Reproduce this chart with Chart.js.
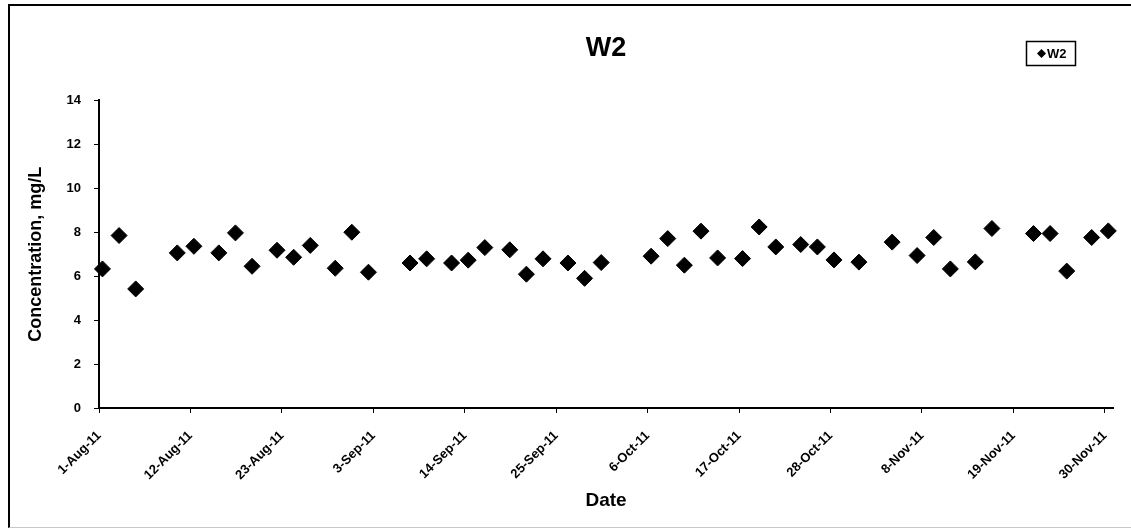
<!DOCTYPE html>
<html>
<head>
<meta charset="utf-8">
<title>W2</title>
<script src="https://cdn.jsdelivr.net/npm/chart.js@4.4.0/dist/chart.umd.min.js"></script>
<style>
  html, body { margin: 0; padding: 0; background: #fff; }
  #wrap { position: relative; width: 1131px; height: 530px; overflow: hidden; }
  #frame {
    position: absolute; left: 8px; top: 4px; width: 1130px; height: 521px;
    border-left: 2px solid #000; border-top: 2px solid #000; border-bottom: 1px solid #c8c8c8;
    pointer-events: none;
  }
</style>
</head>
<body>
<div id="wrap">
  <canvas id="myChart" width="1131" height="530"></canvas>
  <div id="frame"></div>
</div>
<script>
// Sample dates (morning samples) and W2 concentration (mg/L)
const fechas = [
  '2011-08-01', '2011-08-03', '2011-08-05', '2011-08-10', '2011-08-12', '2011-08-15',
  '2011-08-17', '2011-08-19', '2011-08-22', '2011-08-24', '2011-08-26', '2011-08-29',
  '2011-08-31', '2011-09-02', '2011-09-07', '2011-09-09', '2011-09-12', '2011-09-14',
  '2011-09-16', '2011-09-19', '2011-09-21', '2011-09-23', '2011-09-26', '2011-09-28',
  '2011-09-30', '2011-10-06', '2011-10-08', '2011-10-10', '2011-10-12', '2011-10-14',
  '2011-10-17', '2011-10-19', '2011-10-21', '2011-10-24', '2011-10-26', '2011-10-28',
  '2011-10-31', '2011-11-04', '2011-11-07', '2011-11-09', '2011-11-11', '2011-11-14',
  '2011-11-16', '2011-11-21', '2011-11-23', '2011-11-25', '2011-11-28', '2011-11-30'
];
const horaMuestra = 10; // hours after midnight
const valoresW2 = [
  6.33, 7.85, 5.42, 7.06, 7.36, 7.06,
  7.97, 6.45, 7.18, 6.86, 7.40, 6.36,
  8.00, 6.18, 6.60, 6.79, 6.60, 6.73,
  7.30, 7.20, 6.09, 6.79, 6.60, 5.90,
  6.62, 6.91, 7.71, 6.50, 8.05, 6.83,
  6.80, 8.24, 7.33, 7.44, 7.33, 6.74,
  6.64, 7.55, 6.94, 7.76, 6.33, 6.65,
  8.17, 7.94, 7.94, 6.23, 7.76, 8.06
];
const tickLabels = [
  '1-Aug-11', '12-Aug-11', '23-Aug-11', '3-Sep-11', '14-Sep-11', '25-Sep-11',
  '6-Oct-11', '17-Oct-11', '28-Oct-11', '8-Nov-11', '19-Nov-11', '30-Nov-11'
];
const fechaInicio = '2011-08-01';
const fechaFin = '2011-12-01';
const yTicks = [0, 2, 4, 6, 8, 10, 12, 14];

const ctx = document.getElementById('myChart');
const DIA = 86400000;
const meses = { Jan: 0, Feb: 1, Mar: 2, Apr: 3, May: 4, Jun: 5, Jul: 6, Aug: 7, Sep: 8, Oct: 9, Nov: 10, Dec: 11 };

function dia_iso(s) {
  let p = s.split('-');
  return (Date.UTC(+p[0], +p[1] - 1, +p[2]) - Date.UTC(2011, 7, 1)) / DIA;
}

function dia_etiqueta(s) {
  let p = s.split('-');
  return (Date.UTC(2000 + +p[2], meses[p[1]], +p[0]) - Date.UTC(2011, 7, 1)) / DIA;
}

const tickDias = tickLabels.map(dia_etiqueta);
const puntos = fechas.map((f, i) => ({ x: dia_iso(f) + horaMuestra / 24, y: valoresW2[i] }));

const fuente = "'Liberation Sans', Arial, sans-serif";

/* Legend box drawn by hand, same line as the title */
const leyenda = {
  id: 'leyenda',
  afterDraw(chart) {
    const c = chart.ctx;
    c.save();
    c.fillStyle = '#fff';
    c.fillRect(1026, 41, 50, 25);
    c.strokeStyle = '#000';
    c.lineWidth = 1.5;
    c.strokeRect(1026.5, 41.5, 49, 24);
    c.fillStyle = '#000';
    c.beginPath();
    c.moveTo(1037, 53.5); c.lineTo(1041.5, 49); c.lineTo(1046, 53.5); c.lineTo(1041.5, 58);
    c.closePath();
    c.fill();
    c.font = 'bold 13px ' + fuente;
    c.textBaseline = 'middle';
    c.fillText(chart.data.datasets[0].label, 1047, 54);
    c.restore();
  }
};

const config = {
  type: 'scatter',
  data: {
    datasets: [{
      label: 'W2',
      data: puntos,
      clip: false,
      pointStyle: 'rectRot',
      pointRadius: 8,
      pointHoverRadius: 8,
      backgroundColor: '#000',
      borderColor: '#000',
      borderWidth: 1
    }]
  },
  options: {
    responsive: false,
    animation: false,
    layout: { padding: { top: 0, left: 0, right: 16, bottom: 0 } },
    plugins: {
      legend: { display: false },
      tooltip: { enabled: false },
      title: {
        display: true,
        fullSize: false,
        text: 'W2',
        color: '#000',
        font: { family: fuente, size: 27, weight: 'bold' },
        padding: { top: 32, bottom: 36 }
      }
    },
    scales: {
      x: {
        type: 'linear',
        min: dia_iso(fechaInicio),
        max: dia_iso(fechaFin),
        afterBuildTicks: (scale) => { scale.ticks = tickDias.map(v => ({ value: v })); },
        afterFit: (scale) => { scale.height = 122; },
        ticks: {
          autoSkip: false,
          maxRotation: 45,
          minRotation: 45,
          padding: 15,
          color: '#000',
          font: { family: fuente, size: 13, weight: 'bold' },
          callback: (v) => tickLabels[tickDias.indexOf(v)]
        },
        grid: { drawOnChartArea: false, drawTicks: true, tickLength: 5, color: '#000', tickWidth: 1 },
        border: { color: '#000', width: 2 },
        title: {
          display: true,
          text: 'Date',
          color: '#000',
          font: { family: fuente, size: 19, weight: 'bold' },
          padding: { top: 0, bottom: 18 }
        }
      },
      y: {
        min: 0,
        max: 14,
        afterBuildTicks: (scale) => { scale.ticks = yTicks.map(v => ({ value: v })); },
        afterFit: (scale) => { scale.width = 99; },
        ticks: {
          padding: 13,
          color: '#000',
          font: { family: fuente, size: 13, weight: 'bold' }
        },
        grid: { drawOnChartArea: false, drawTicks: true, tickLength: 5, color: '#000', tickWidth: 1 },
        border: { color: '#000', width: 2 },
        title: {
          display: true,
          text: 'Concentration, mg/L',
          color: '#000',
          font: { family: fuente, size: 18, weight: 'bold' },
          padding: { top: 25, bottom: 0 }
        }
      }
    }
  },
  plugins: [leyenda]
};

function load_document() {
  new Chart(ctx, config);
}

window.addEventListener('load', load_document);
</script>
</body>
</html>
